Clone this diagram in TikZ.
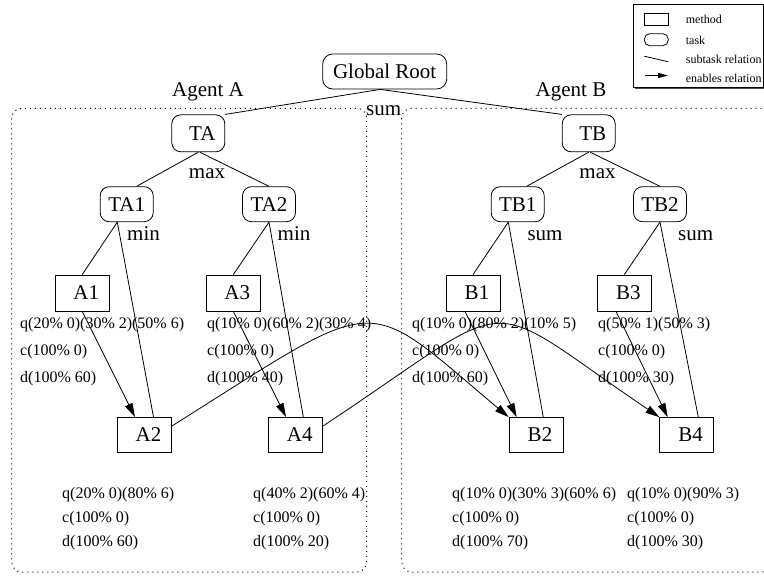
\documentclass[tikz,border=0pt]{standalone}
\usepackage{fontspec}
\setmainfont{Liberation Serif}
\usetikzlibrary{arrows.meta,calc}
\begin{document}
\begin{tikzpicture}[x=1pt,y=-1pt,
  big/.style={font=\fontsize{21}{25}\selectfont},
  task/.style={draw, line width=0.8pt, rounded corners=9pt, minimum width=53pt,
    minimum height=36pt, inner sep=0pt, big},
  method/.style={draw, line width=0.8pt, minimum width=54pt, minimum height=36pt,
    inner sep=0pt, big},
  nudge/.style={execute at begin node={\hspace*{8pt}}},
  op/.style={big, anchor=base, inner sep=0pt},
  infotop/.style={font=\fontsize{16}{27}\selectfont, align=left, anchor=north west, inner sep=0pt},
  infobot/.style={font=\fontsize{16}{24}\selectfont, align=left, anchor=north west, inner sep=0pt},
  sub/.style={line width=0.8pt},
  enab/.style={line width=0.8pt, -{Triangle[length=14pt,width=8pt]}},
  cluster/.style={line width=1pt, dash pattern=on 1pt off 4pt, rounded corners=10pt},
  legtext/.style={font=\fontsize{12}{14}\selectfont, anchor=west, inner sep=0pt}
]
\useasboundingbox (0,0) rectangle (764,578);

% agent clusters
\draw[cluster] (11.7,108.3) rectangle (366.7,572);
\draw[cluster] (401.7,108.3) rectangle (772,572);
\node[op] (agA) at (208,97) {Agent A};
\node[op] (agB) at (571,97) {Agent B};

% legend
\fill[black!70] (635.3,6) rectangle (766,89.3);
\node[draw, fill=white, line width=0.8pt, anchor=north west, inner sep=0pt,
  minimum width=130pt, minimum height=83.3pt] (legend) at (633.3,4) {};
\node[draw, line width=0.8pt, minimum width=24pt, minimum height=12pt, inner sep=0pt]
  (lmethod) at (656.3,19) {};
\node[draw, line width=0.8pt, rounded corners=5.5pt, minimum width=24pt, minimum height=12pt,
  inner sep=0pt] (ltask) at (656.3,39.7) {};
\coordinate (lsa) at (644.3,56.2);
\coordinate (lsb) at (668.3,61.8);
\draw[sub] (lsa) -- (lsb);
\coordinate (lea) at (645,75.5);
\coordinate (leb) at (668,75.5);
\draw[line width=0.8pt, -{Triangle[length=10pt,width=5pt]}] (lea) -- (leb);
\node[legtext] (tmethod) at (685.7,19.5) {method};
\node[legtext] (ttask) at (685.7,40) {task};
\node[legtext] (tsub) at (685.7,59.5) {subtask relation};
\node[legtext] (tenab) at (685.7,78.5) {enables relation};

% task tree
\node[task, rounded corners=10pt, minimum width=124pt, minimum height=35pt] (gr) at (384.7,71.5) {Global Root};
\node[task, nudge, minimum height=37pt] (ta) at (198.3,133.3) {TA};
\node[task, nudge, minimum height=37pt] (tb) at (588.7,133.3) {TB};
\node[task, minimum height=35pt] (ta1) at (126.7,204.2) {TA1};
\node[task, minimum height=35pt] (ta2) at (269,204.2) {TA2};
\node[task, minimum height=35pt] (tb1) at (517.7,204.2) {TB1};
\node[task, minimum height=35pt] (tb2) at (660,204.2) {TB2};

\node[method, nudge] (a1) at (82.2,293) {A1};
\node[method, nudge] (a3) at (233.3,293) {A3};
\node[method, nudge] (b1) at (473,293) {B1};
\node[method, nudge] (b3) at (624.3,293) {B3};
\node[method, nudge, minimum height=35pt] (a2) at (144.5,435) {A2};
\node[method, nudge, minimum height=35pt] (a4) at (295.7,435) {A4};
\node[method, nudge, minimum height=35pt] (b2) at (536,435) {B2};
\node[method, nudge, minimum height=35pt] (b4) at (686.7,435) {B4};

% quality accumulation functions
\node[op] (opgr) at (383.7,116) {sum};
\node[op] (opta) at (207,178) {max};
\node[op] (optb) at (597.5,178) {max};
\node[op] (opta1) at (143.5,240) {min};
\node[op] (opta2) at (294,240) {min};
\node[op] (optb1) at (545,240) {sum};
\node[op] (optb2) at (695.7,240) {sum};

% subtask relations
\draw[sub] ([xshift=-4.5pt]gr.south) -- (ta.north east);
\draw[sub] ([xshift=-4.5pt]gr.south) -- (tb.north west);
\draw[sub] (ta.south) -- ([xshift=10pt]ta1.north);
\draw[sub] ([xshift=1.5pt]ta.south) -- (ta2.north);
\draw[sub] (tb.south) -- ([xshift=9pt]tb1.north);
\draw[sub] ([xshift=1.5pt]tb.south) -- (tb2.north);
\draw[sub] ([xshift=-9.4pt]ta1.south) -- (a1.north);
\draw[sub] ([xshift=-9.4pt]ta1.south) -- ([xshift=9pt]a2.north);
\draw[sub] (ta2.south) -- (a3.north);
\draw[sub] (ta2.south) -- ([xshift=7.6pt]a4.north);
\draw[sub] ([xshift=-9.4pt]tb1.south) -- (b1.north);
\draw[sub] ([xshift=-9.4pt]tb1.south) -- ([xshift=7.3pt]b2.north);
\draw[sub] (tb2.south) -- (b3.north);
\draw[sub] (tb2.south) -- ([xshift=11.6pt]b4.north);

% enables relations
\draw[enab] (a1.south) -- ([xshift=-9.5pt]a2.north);
\draw[enab] (a3.south) -- ([xshift=-9.7pt]a4.north);
\draw[enab] ([xshift=-8pt]b1.south) -- ([xshift=-19.3pt]b2.north);
\draw[enab] ([xshift=-8.3pt]b3.south) -- ([xshift=-19pt]b4.north);
\draw[enab] ([yshift=9pt]a2.east) .. controls (385,292) and (360,292) .. (b2.north west);
\draw[enab] ([yshift=9pt]a4.east) .. controls (525,292) and (475,292) .. (b4.north west);

% method characteristics
\node[infotop] (ia1) at (20,317) {q(20\% 0)(30\% 2)(50\% 6)\\c(100\% 0)\\d(100\% 60)};
\node[infotop] (ia3) at (207,317) {q(10\% 0)(60\% 2)(30\% 4)\\c(100\% 0)\\d(100\% 40)};
\node[infotop] (ib1) at (412,317) {q(10\% 0)(80\% 2)(10\% 5)\\c(100\% 0)\\d(100\% 60)};
\node[infotop] (ib3) at (598,317) {q(50\% 1)(50\% 3)\\c(100\% 0)\\d(100\% 30)};
\node[infobot] (ia2) at (62,487) {q(20\% 0)(80\% 6)\\c(100\% 0)\\d(100\% 60)};
\node[infobot] (ia4) at (253,487) {q(40\% 2)(60\% 4)\\c(100\% 0)\\d(100\% 20)};
\node[infobot] (ib2) at (452,487) {q(10\% 0)(30\% 3)(60\% 6)\\c(100\% 0)\\d(100\% 70)};
\node[infobot] (ib4) at (627,487) {q(10\% 0)(90\% 3)\\c(100\% 0)\\d(100\% 30)};
\end{tikzpicture}
\end{document}
